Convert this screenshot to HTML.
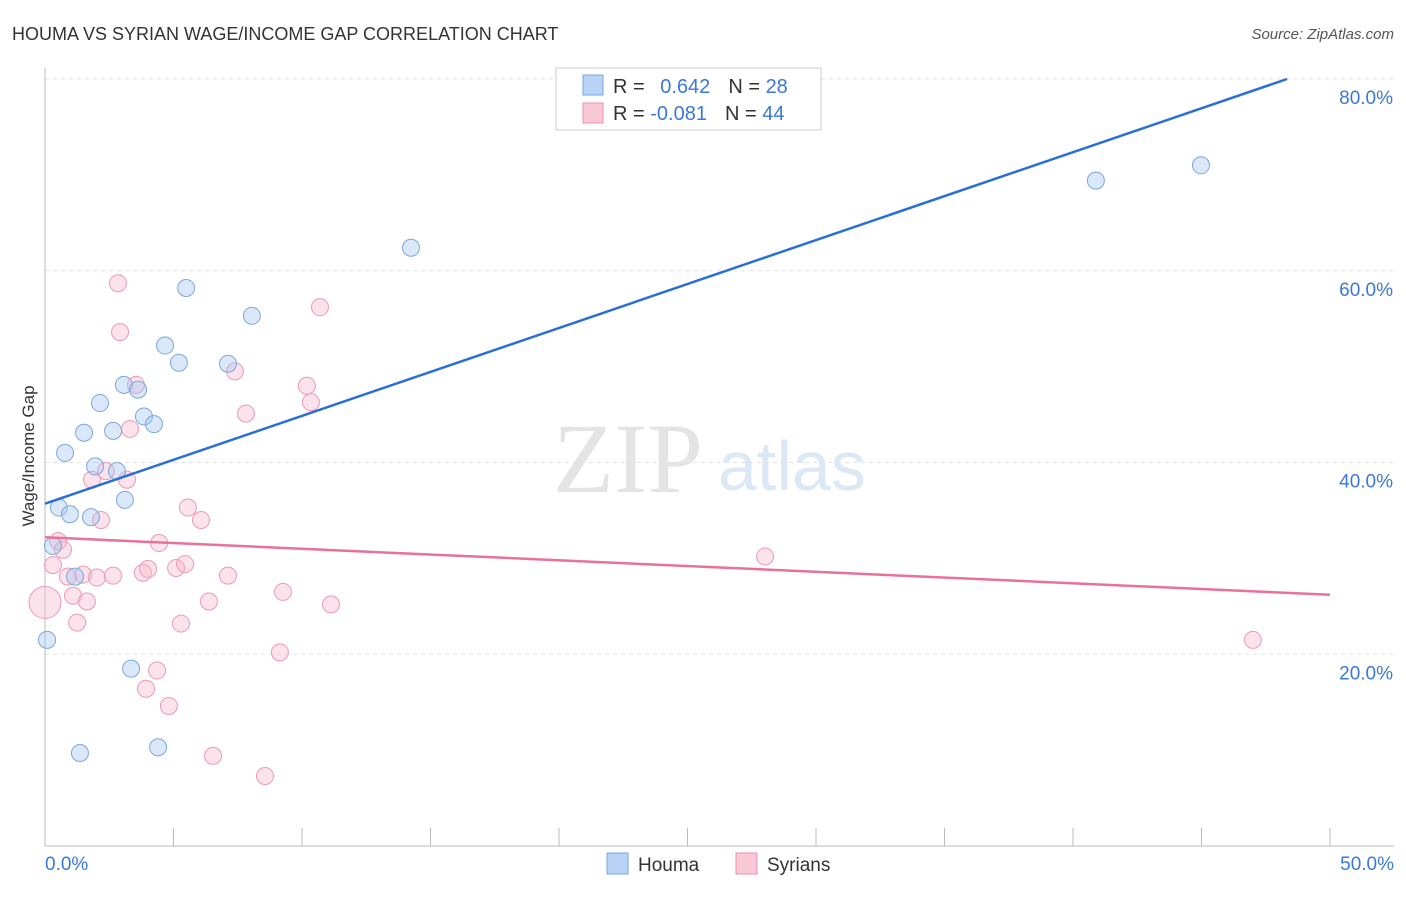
<!DOCTYPE html>
<html><head><meta charset="utf-8"><style>
body{margin:0;background:#fff;font-family:"Liberation Sans",sans-serif;}
svg text{font-family:"Liberation Sans",sans-serif;}
</style></head><body>
<svg id="chart" width="1406" height="892" viewBox="0 0 1406 892">
<text x="12" y="40" font-size="18" fill="#333">HOUMA VS SYRIAN WAGE/INCOME GAP CORRELATION CHART</text>
<text x="1394" y="39" font-size="15" fill="#555" text-anchor="end" font-style="italic">Source: ZipAtlas.com</text>
<text transform="translate(34,456) rotate(-90)" font-size="17" fill="#333" text-anchor="middle">Wage/Income Gap</text>
<g id="grid"></g>
<g id="axes"></g>
<text x="553" y="492" font-size="100" fill="#e4e4e4" style="font-family:'Liberation Serif',serif">ZIP</text>
<text x="718" y="490" font-size="70" fill="#dde8f6">atlas</text>
<g id="points"></g>
<g id="lines"></g>
<g>
<rect x="556" y="68" width="265" height="62" fill="#fff" stroke="#ccc"/>
<rect x="583" y="75" width="20" height="20" fill="#b8d3f5" stroke="#7aa7e0"/>
<rect x="583" y="103" width="20" height="20" fill="#f9c8d6" stroke="#ee8fab"/>
<text x="613" y="93" font-size="20" fill="#333">R = <tspan fill="#3b78d8" dx="10">0.642</tspan><tspan dx="18">N = </tspan><tspan fill="#3b78d8">28</tspan></text>
<text x="613" y="120" font-size="20" fill="#333">R = <tspan fill="#3b78d8">-0.081</tspan><tspan dx="18">N = </tspan><tspan fill="#3b78d8">44</tspan></text>
</g>
<g>
<rect x="607" y="853" width="21" height="21" fill="#b8d3f5" stroke="#7aa7e0"/>
<text x="638" y="871" font-size="19" fill="#333">Houma</text>
<rect x="736" y="853" width="21" height="21" fill="#f9c8d6" stroke="#ee8fab"/>
<text x="767" y="871" font-size="19" fill="#333">Syrians</text>
</g>
</svg>
<script>
const yTicks=[20,40,60,80];
const yTickLabels=["20.0%","40.0%","60.0%","80.0%"];
const xLabels=["0.0%","50.0%"];
const houmaX=[0.31,0.08,0.54,0.97,0.78,1.52,1.95,1.79,2.14,1.17,2.65,2.80,3.11,3.07,3.62,3.85,4.24,4.67,5.21,5.49,7.12,8.05,3.35,4.40,1.36,14.24,40.89,44.98];
const houmaY=[31.3,21.5,35.3,34.6,41.0,43.1,39.6,34.3,46.2,28.1,43.3,39.1,36.1,48.1,47.6,44.8,44.0,52.2,50.4,58.2,50.3,55.3,18.5,10.3,9.7,62.4,69.4,71.0];
const syrX=[0,0.31,0.51,0.70,0.89,1.09,1.25,1.48,1.63,1.83,2.02,2.18,2.37,2.65,2.84,2.92,3.19,3.31,3.54,3.81,4.01,3.93,4.36,4.44,4.82,5.10,5.29,5.45,5.56,6.07,6.38,6.54,7.12,7.39,7.82,8.56,9.14,9.26,10.19,10.35,10.70,11.13,28.02,47.00];
const syrY=[25.4,29.3,31.8,30.9,28.1,26.1,23.3,28.3,25.5,38.2,28.0,34.0,39.1,28.2,58.7,53.6,38.2,43.5,48.1,28.5,28.9,16.4,18.3,31.6,14.6,29.0,23.2,29.4,35.3,34.0,25.5,9.4,28.2,49.5,45.1,7.3,20.2,26.5,48.0,46.3,56.2,25.2,30.2,21.5];
const houmaLineX=[0,48.33];
const houmaLineY=[35.7,80];
const syrLineX=[0,50];
const syrLineY=[32.2,26.2];
const NS="http://www.w3.org/2000/svg";
const X0=45,X1=1330,Y0=846,Y80=79;
function sx(v){return X0+(X1-X0)*v/50;}
function sy(v){return Y0-(Y0-Y80)*v/80;}
function mk(t,a,p){const e=document.createElementNS(NS,t);for(const k in a)e.setAttribute(k,a[k]);p.appendChild(e);return e;}
const grid=document.getElementById('grid'),axes=document.getElementById('axes');
yTicks.forEach((t,i)=>{
 const l=mk('line',{x1:X0,x2:1394,y1:sy(t),y2:sy(t),stroke:'#e2e2e2','stroke-dasharray':'4,4'},grid);
 
 
 const tx=mk('text',{x:1393,y:sy(t)+25,'font-size':19,fill:'#3b78d8','text-anchor':'end'},axes);
 tx.textContent=yTickLabels[i];
 
 
});
mk('line',{x1:X0,x2:X0,y1:68,y2:Y0,stroke:'#bbb'},axes);
mk('line',{x1:X0,x2:1394,y1:Y0,y2:Y0,stroke:'#bbb'},axes);
for(let v=0;v<=50;v+=5){
 const t=mk('line',{x1:sx(v),x2:sx(v),y1:Y0,y2:Y0-18,stroke:'#bbb'},axes);
 
 
}
[[0,'start',45],[50,'end',1394]].forEach((d,i)=>{
 const tx=mk('text',{x:d[2],y:870,'font-size':19,fill:'#3b78d8','text-anchor':d[1]},axes);
 tx.textContent=xLabels[i];
 
 
});
const pts=document.getElementById('points');
syrX.forEach((x,i)=>{
 const c=mk('circle',{cx:sx(x),cy:sy(syrY[i]),r:i===0?16:8.5,fill:'rgba(247,178,200,0.38)',stroke:'#ee9ab3','stroke-width':1},pts);
 
 
});
houmaX.forEach((x,i)=>{
 const c=mk('circle',{cx:sx(x),cy:sy(houmaY[i]),r:8.5,fill:'rgba(168,200,242,0.42)',stroke:'#7aa7e0','stroke-width':1},pts);
 
 
});
const lg=document.getElementById('lines');
const l1=mk('line',{x1:sx(houmaLineX[0]),y1:sy(houmaLineY[0]),x2:sx(houmaLineX[1]),y2:sy(houmaLineY[1]),stroke:'#2a6fd6','stroke-width':2.5},lg);


const l2=mk('line',{x1:sx(syrLineX[0]),y1:sy(syrLineY[0]),x2:sx(syrLineX[1]),y2:sy(syrLineY[1]),stroke:'#e8709a','stroke-width':2.5},lg);


</script>
</body></html>
